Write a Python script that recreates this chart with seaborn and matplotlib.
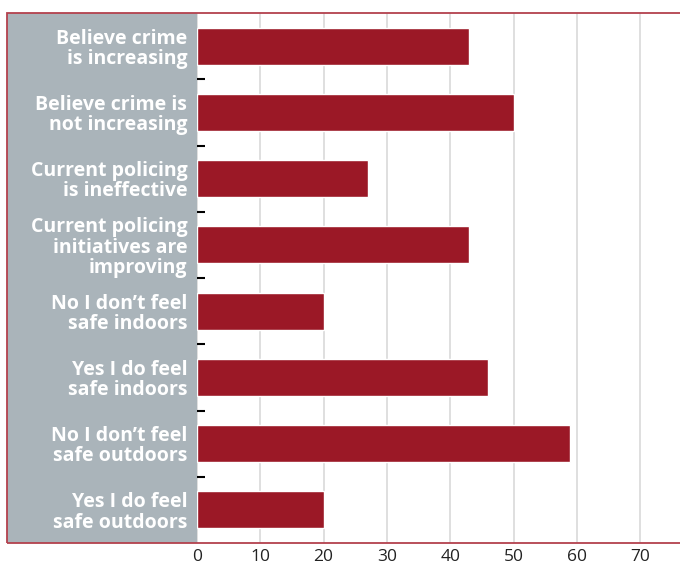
import matplotlib
matplotlib.use("Agg")
import matplotlib.pyplot as plt
from matplotlib.patches import Rectangle
from matplotlib.ticker import FixedLocator
import seaborn as sns
import pandas as pd

# данные с картинки
categories = [
    "Believe crime\nis increasing",
    "Believe crime is\nnot increasing",
    "Current policing\nis ineffective",
    "Current policing\ninitiatives are\nimproving",
    "No I don\u2019t feel\nsafe indoors",
    "Yes I do feel\nsafe indoors",
    "No I don\u2019t feel\nsafe outdoors",
    "Yes I do feel\nsafe outdoors",
]
values = [43, 50, 27, 43, 20, 46, 59, 20]
x_ticks = [0, 10, 20, 30, 40, 50, 60, 70]

bar_color = "#9b1826"
panel_gray = "#aab4ba"
frame_red = "#b3414d"

sns.set_theme(style="white")
plt.rcParams["font.family"] = ["Open Sans", "DejaVu Sans"]

df = pd.DataFrame({"label": categories, "value": values})

fig = plt.figure(figsize=(6.8, 5.64), dpi=100)
ax = fig.add_axes([197 / 680, 21 / 564, 1 - 197 / 680, 530 / 564])

# серая панель под подписями и рамка
fig.patches.append(Rectangle((7 / 680, 21 / 564), 190 / 680, 530 / 564,
                             transform=fig.transFigure, facecolor=panel_gray,
                             edgecolor="none", zorder=-1))
fig.patches.append(Rectangle((7 / 680, 21 / 564), 700 / 680, 530 / 564,
                             transform=fig.transFigure, facecolor="none",
                             edgecolor=frame_red, linewidth=1.3, zorder=5))

sns.barplot(data=df, x="value", y="label", orient="h", color=bar_color,
            saturation=1, width=0.56, ax=ax, zorder=3)

ax.set_xlim(0, 76.3)
ax.set_ylim(7.5, -0.5)
ax.set_xticks(x_ticks)
ax.xaxis.grid(True, color="#d9d9d9", linewidth=1.2, zorder=0)
ax.set_axisbelow(True)
for s in ax.spines.values():
    s.set_visible(False)

ax.set_xlabel("")
ax.set_ylabel("")
ax.tick_params(axis="x", length=0, pad=4, labelsize=12.5, labelcolor="#222222")
ax.tick_params(axis="y", which="major", length=0, pad=7)
for t in ax.get_yticklabels():
    t.set_color("white")
    t.set_fontweight("bold")
    t.set_fontsize(14)
    t.set_linespacing(1.02)

ax.yaxis.set_minor_locator(FixedLocator([i + 0.5 for i in range(7)]))
ax.tick_params(axis="y", which="minor", direction="in", length=6, width=1.5,
               color="black", left=True)

fig.savefig("out.png", dpi=100)
